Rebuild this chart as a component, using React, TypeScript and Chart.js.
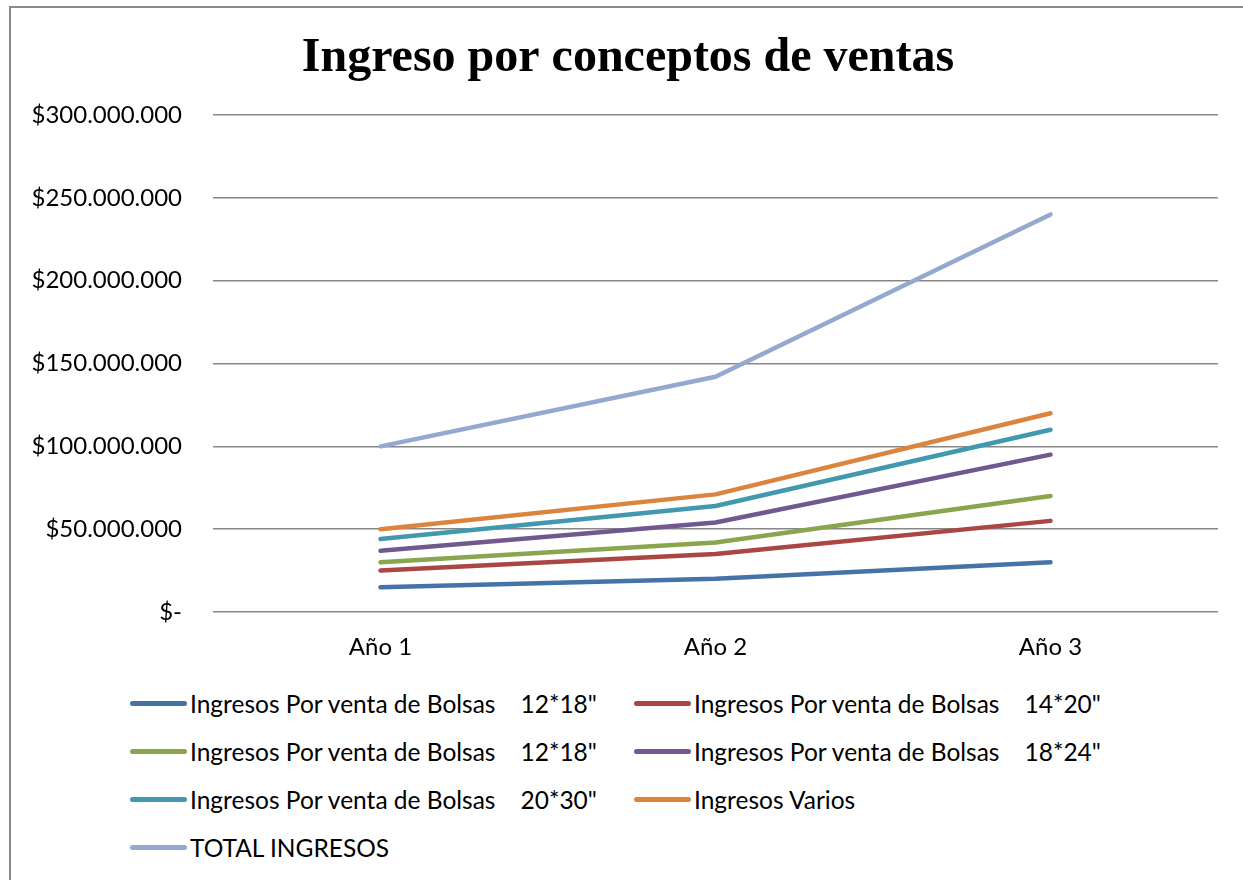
import React, { useEffect, useRef } from 'react';
import { Chart, registerables } from 'chart.js';

Chart.register(...registerables);

const categories = ['Año 1', 'Año 2', 'Año 3'];

const seriesLabels = [
  'Ingresos Por venta de Bolsas    12*18"',
  'Ingresos Por venta de Bolsas    14*20"',
  'Ingresos Por venta de Bolsas    12*18"',
  'Ingresos Por venta de Bolsas    18*24"',
  'Ingresos Por venta de Bolsas    20*30"',
  'Ingresos Varios',
  'TOTAL INGRESOS',
];

const bolsas1218 = [15000000, 20000000, 30000000];
const bolsas1420 = [25000000, 35000000, 55000000];
const bolsas1218b = [30000000, 42000000, 70000000];
const bolsas1824 = [37000000, 54000000, 95000000];
const bolsas2030 = [44000000, 64000000, 110000000];
const ingresosVarios = [50000000, 71000000, 120000000];
const totalIngresos = [100000000, 142000000, 240000000];

const seriesValues = [bolsas1218, bolsas1420, bolsas1218b, bolsas1824, bolsas2030, ingresosVarios, totalIngresos];

const seriesColors = ['#4572A7', '#AA4643', '#89A54E', '#71588F', '#4198AF', '#DB843D', '#93A9CF'];

const yTicks = [0, 50000000, 100000000, 150000000, 200000000, 250000000, 300000000];

const titleText = 'Ingreso por conceptos de ventas';

const FONT = 'Lato, "Open Sans", sans-serif';

function fmt(v: number): string {
  if (v === 0) return '$-';
  return '$' + Math.round(v).toString().replace(/\B(?=(\d{3})+(?!\d))/g, '.');
}

// lets the y tick labels extend into the left layout padding instead of being clipped
const widenYLabelArea = {
  id: 'widenYLabelArea',
  afterLayout(chart: any) {
    if (chart.scales.y) chart.scales.y.left = 0;
  },
};

export default function App() {
  const canvasRef = useRef<HTMLCanvasElement | null>(null);

  useEffect(() => {
    if (!canvasRef.current) return;
    const chart = new Chart(canvasRef.current, {
      type: 'line',
      data: {
        labels: categories,
        datasets: seriesValues.map((vals, i) => ({
          label: seriesLabels[i],
          data: vals,
          borderColor: seriesColors[i],
          backgroundColor: seriesColors[i],
          borderWidth: 4.5,
          borderCapStyle: 'round' as const,
          borderJoinStyle: 'round' as const,
          pointRadius: 0,
          tension: 0,
          fill: false,
        })),
      },
      options: {
        animation: false,
        responsive: false,
        maintainAspectRatio: false,
        layout: { padding: { top: 0, right: 28, bottom: 0, left: 28 } },
        plugins: {
          legend: { display: false },
          tooltip: { enabled: false },
          title: {
            display: true,
            text: titleText,
            color: '#000',
            font: { family: '"Liberation Serif", "Times New Roman", serif', size: 48, weight: 'bold' },
            padding: { top: 22, bottom: 27.4 },
          },
        },
        scales: {
          x: {
            offset: true,
            grid: { display: false },
            border: { display: false },
            ticks: { color: '#000', font: { family: FONT, size: 24 }, padding: 13 },
            afterFit: (scale: any) => { scale.height = 60; },
          },
          y: {
            min: 0,
            max: 300000000,
            afterBuildTicks: (scale: any) => { scale.ticks = yTicks.map((v) => ({ value: v })); },
            grid: { color: '#878787', lineWidth: 1.5, drawTicks: false },
            border: { display: false },
            ticks: {
              color: '#000',
              font: { family: FONT, size: 24 },
              padding: 31,
              callback: (v: any) => fmt(Number(v)),
            },
            afterFit: (scale: any) => { scale.width = 175; },
          },
        },
      },
      plugins: [widenYLabelArea],
    });
    return () => chart.destroy();
  }, []);

  return (
    <div style={{ position: 'fixed', left: 0, top: 0, width: 1243, height: 880, overflow: 'hidden', background: '#fff' }}>
      <div
        style={{
          position: 'absolute',
          left: 9,
          top: 6,
          width: 1300,
          height: 1000,
          borderLeft: '2px solid #8a8a8a',
          borderTop: '2px solid #8a8a8a',
          boxSizing: 'border-box',
        }}
      />
      <div style={{ position: 'absolute', left: 10, top: 8, width: 1236, height: 664 }}>
        <canvas ref={canvasRef} width={1236} height={664} style={{ display: 'block' }} />
      </div>
      {seriesLabels.map((label, i) => {
        const col = i % 2;
        const row = Math.floor(i / 2);
        return (
          <div
            key={i}
            style={{
              position: 'absolute',
              left: 130 + col * 504,
              top: 679 + row * 48,
              height: 48,
              display: 'flex',
              alignItems: 'center',
              fontFamily: FONT,
              fontSize: 24.5,
              color: '#000',
              whiteSpace: 'pre',
            }}
          >
            <span
              style={{
                display: 'inline-block',
                width: 57,
                height: 5,
                borderRadius: 3,
                background: seriesColors[i],
                marginRight: 3,
              }}
            />
            <span>{label}</span>
          </div>
        );
      })}
    </div>
  );
}
